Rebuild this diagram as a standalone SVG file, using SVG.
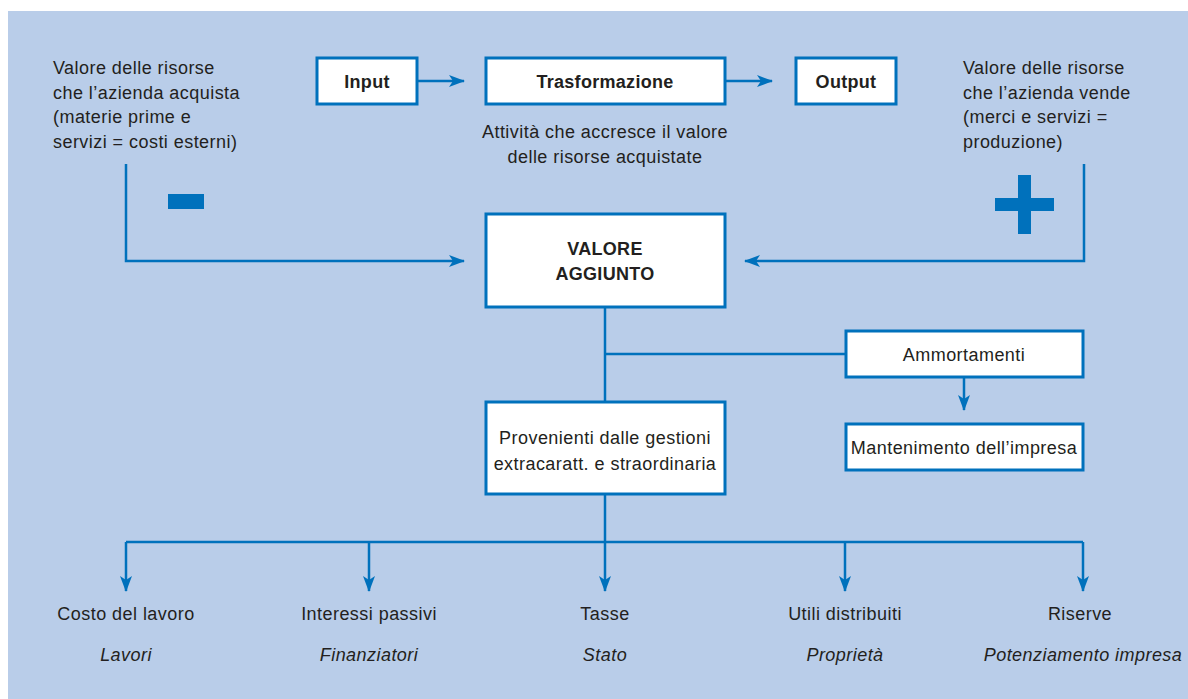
<svg xmlns="http://www.w3.org/2000/svg" width="1188" height="699" viewBox="0 0 1188 699">
<style>
.t{font-family:"Liberation Sans",Arial,sans-serif;font-size:18px;letter-spacing:0.45px;fill:#231f20}
.b{font-weight:bold;letter-spacing:0.3px}
.i{font-style:italic}
.c{text-anchor:middle}
.box{fill:#fff;stroke:#0071bc;stroke-width:3}
.ln{fill:none;stroke:#0071bc;stroke-width:2.5}
.sym{fill:#0071bc}
</style>
<defs>
<marker id="ah" markerUnits="userSpaceOnUse" markerWidth="16" markerHeight="12" refX="15" refY="6" orient="auto" viewBox="0 0 16 12">
<path d="M0,0 L16,6 L0,12 L4,6 z" fill="#0071bc"/>
</marker>
</defs>
<rect x="8" y="11" width="1180" height="688" fill="#b9cde9"/>
<g id="connectors">
<line class="ln" x1="418" y1="81" x2="464" y2="81" marker-end="url(#ah)"/>
<line class="ln" x1="725" y1="81" x2="772" y2="81" marker-end="url(#ah)"/>
<polyline class="ln" points="126,164 126,261 464,261" marker-end="url(#ah)"/>
<polyline class="ln" points="1084,164 1084,261 745,261" marker-end="url(#ah)"/>
<line class="ln" x1="605" y1="307" x2="605" y2="402"/>
<line class="ln" x1="605" y1="354" x2="845" y2="354"/>
<line class="ln" x1="964" y1="377" x2="964" y2="410" marker-end="url(#ah)"/>
<line class="ln" x1="605" y1="495" x2="605" y2="542"/>
<line class="ln" x1="126" y1="542" x2="1083" y2="542"/>
<line class="ln" x1="126" y1="542" x2="126" y2="591" marker-end="url(#ah)"/>
<line class="ln" x1="369" y1="542" x2="369" y2="591" marker-end="url(#ah)"/>
<line class="ln" x1="605" y1="542" x2="605" y2="591" marker-end="url(#ah)"/>
<line class="ln" x1="845" y1="542" x2="845" y2="591" marker-end="url(#ah)"/>
<line class="ln" x1="1083" y1="542" x2="1083" y2="591" marker-end="url(#ah)"/>
</g>
<g id="acquisti">
<text class="t" x="53" y="74">Valore delle risorse</text>
<text class="t" x="53" y="98.5">che l’azienda acquista</text>
<text class="t" x="53" y="123">(materie prime e</text>
<text class="t" x="53" y="147.5">servizi = costi esterni)</text>
</g>
<g id="minus"><rect class="sym" x="168" y="194" width="36" height="15"/></g>
<g id="vendite">
<text class="t" x="963" y="74">Valore delle risorse</text>
<text class="t" x="963" y="98.5">che l’azienda vende</text>
<text class="t" x="963" y="123">(merci e servizi =</text>
<text class="t" x="963" y="147.5">produzione)</text>
</g>
<g id="plus">
<rect class="sym" x="995" y="198" width="59" height="13"/>
<rect class="sym" x="1018" y="175" width="13" height="59"/>
</g>
<g id="input">
<rect class="box" x="317" y="58" width="100" height="46"/>
<text class="t b c" x="367" y="88">Input</text>
</g>
<g id="trasformazione">
<rect class="box" x="486" y="58" width="239" height="46"/>
<text class="t b c" x="605" y="88">Trasformazione</text>
</g>
<g id="output">
<rect class="box" x="796" y="58" width="100" height="46"/>
<text class="t b c" x="846" y="88">Output</text>
</g>
<g id="attivita">
<text class="t c" x="605" y="138">Attività che accresce il valore</text>
<text class="t c" x="605" y="163">delle risorse acquistate</text>
</g>
<g id="valore-aggiunto">
<rect class="box" x="486" y="214" width="239" height="93"/>
<text class="t b c" x="605" y="255">VALORE</text>
<text class="t b c" x="605" y="280">AGGIUNTO</text>
</g>
<g id="ammortamenti">
<rect class="box" x="846" y="331" width="237" height="46"/>
<text class="t c" x="964" y="361">Ammortamenti</text>
</g>
<g id="mantenimento">
<rect class="box" x="846" y="424" width="237" height="46"/>
<text class="t c" x="964" y="454">Mantenimento dell’impresa</text>
</g>
<g id="provenienti">
<rect class="box" x="486" y="402" width="239" height="92"/>
<text class="t c" x="605" y="444">Provenienti dalle gestioni</text>
<text class="t c" x="605" y="470">extracaratt. e straordinaria</text>
</g>
<g id="costo-lavoro">
<text class="t c" x="126" y="620">Costo del lavoro</text>
<text class="t i c" x="126" y="661">Lavori</text>
</g>
<g id="interessi">
<text class="t c" x="369" y="620">Interessi passivi</text>
<text class="t i c" x="369" y="661">Finanziatori</text>
</g>
<g id="tasse">
<text class="t c" x="605" y="620">Tasse</text>
<text class="t i c" x="605" y="661">Stato</text>
</g>
<g id="utili">
<text class="t c" x="845" y="620">Utili distribuiti</text>
<text class="t i c" x="845" y="661">Proprietà</text>
</g>
<g id="riserve">
<text class="t c" x="1080" y="620">Riserve</text>
<text class="t i c" x="1083" y="661">Potenziamento impresa</text>
</g>
</svg>
